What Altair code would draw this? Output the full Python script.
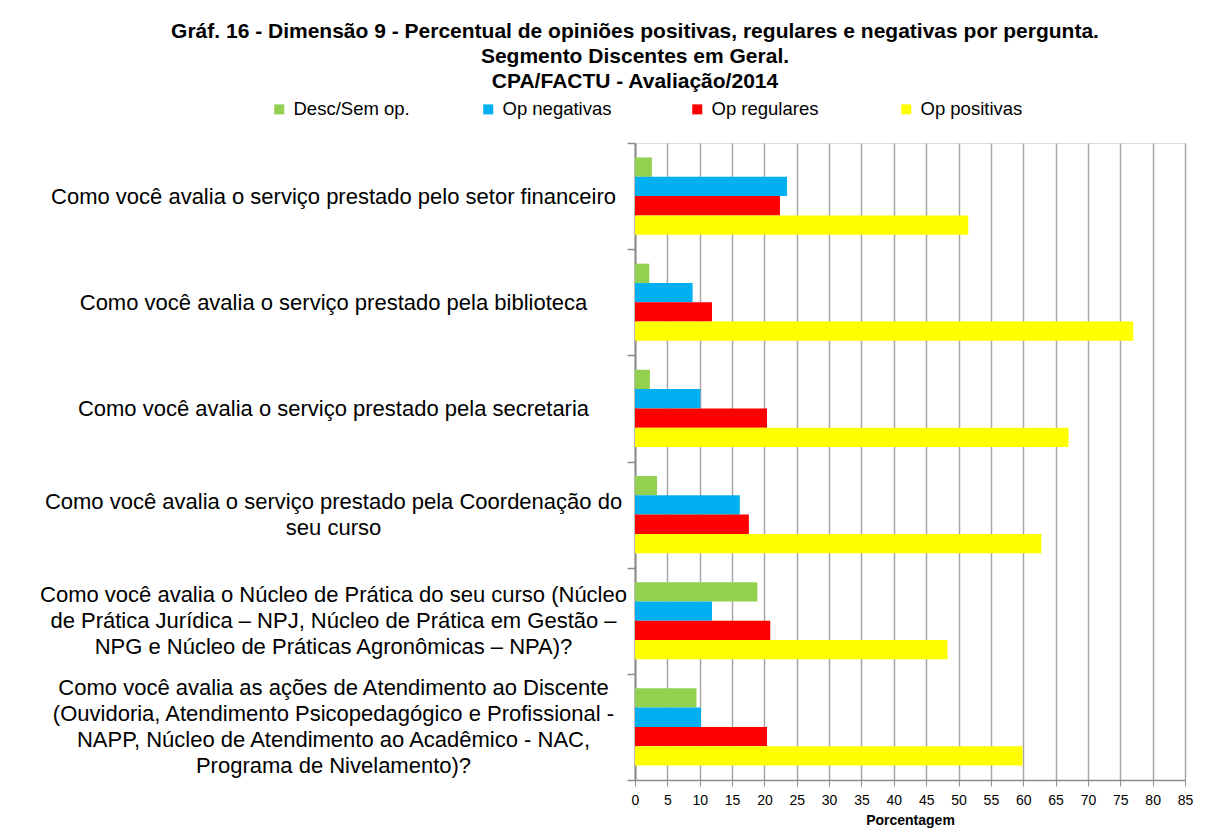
import altair as alt
import pandas as pd

categories = [
    "Como você avalia o serviço prestado pelo setor financeiro",
    "Como você avalia o serviço prestado pela biblioteca",
    "Como você avalia o serviço prestado pela secretaria",
    "Como você avalia o serviço prestado pela Coordenação do|seu curso",
    "Como você avalia o Núcleo de Prática do seu curso (Núcleo|de Prática Jurídica – NPJ, Núcleo de Prática em Gestão –|NPG e Núcleo de Práticas Agronômicas – NPA)?",
    "Como você avalia as ações de Atendimento ao Discente|(Ouvidoria, Atendimento Psicopedagógico e Profissional -|NAPP, Núcleo de Atendimento ao Acadêmico - NAC,|Programa de Nivelamento)?",
]
series = ["Desc/Sem op.", "Op negativas", "Op regulares", "Op positivas"]
colors = ["#92D050", "#00B0F0", "#FF0000", "#FFFF00"]

desc_sem_op = [2.6, 2.2, 2.3, 3.4, 18.9, 9.5]
op_negativas = [23.5, 8.9, 10.1, 16.2, 11.9, 10.2]
op_regulares = [22.4, 11.9, 20.4, 17.6, 20.9, 20.4]
op_positivas = [51.5, 77.0, 67.0, 62.8, 48.3, 59.9]

x_ticks = list(range(0, 90, 5))

rows = []
for s, vals in zip(series, [desc_sem_op, op_negativas, op_regulares, op_positivas]):
    for c, v in zip(categories, vals):
        rows.append({"categoria": c, "serie": s, "valor": v})
df = pd.DataFrame(rows)

FONT = "Liberation Sans"
LINE_H = 26

# Vega draws multi-line labels downward from the first line, so shift
# each label up by half its extra lines to centre it on its band.
n_lines = "length(split(datum.value, '|'))"
label_offset = {
    "condition": [
        {"test": f"{n_lines} == 2", "value": -LINE_H * 0.5},
        {"test": f"{n_lines} == 3", "value": -LINE_H * 1.0},
        {"test": f"{n_lines} == 4", "value": -LINE_H * 1.5},
    ],
    "value": 0,
}

chart = alt.Chart(df).mark_bar().encode(
    x=alt.X("valor:Q",
            scale=alt.Scale(domain=[0, 85], nice=False),
            axis=alt.Axis(values=x_ticks, title="Porcentagem", grid=True,
                          gridColor="#a6a6a6", gridWidth=1.5,
                          domainColor="#8c8c8c", domainWidth=1.5,
                          tickColor="#8c8c8c", tickSize=6,
                          labelFlush=False,
                          labelFont=FONT, labelFontSize=14, labelColor="black",
                          titleFont=FONT, titleFontSize=14, titleFontWeight="bold",
                          titleColor="black", titlePadding=6, labelPadding=7)),
    y=alt.Y("categoria:N", sort=categories,
            scale=alt.Scale(paddingInner=0, paddingOuter=0),
            axis=alt.Axis(title=None, tickBand="extent",
                          labelExpr="split(datum.label, '|')",
                          labelAlign="center", labelBaseline="middle",
                          labelPadding=294, labelLimit=0, labelOverlap=False,
                          labelOffset=label_offset,
                          labelFont=FONT, labelFontSize=22, labelColor="black",
                          labelLineHeight=LINE_H,
                          domainColor="#8c8c8c", domainWidth=2,
                          tickColor="#8c8c8c", tickSize=8, tickWidth=1.5)),
    yOffset=alt.YOffset("serie:N", sort=series,
                        scale=alt.Scale(paddingInner=0, paddingOuter=0.75)),
    color=alt.Color("serie:N", sort=series,
                    scale=alt.Scale(domain=series, range=colors),
                    legend=alt.Legend(title=None, orient="none",
                                      legendX=-365, legendY=-43,
                                      direction="horizontal", columns=4,
                                      gridAlign="all", columnPadding=69,
                                      symbolType="square", symbolSize=100,
                                      symbolStrokeWidth=0,
                                      labelFont=FONT, labelFontSize=18.5,
                                      labelColor="black", labelOffset=5)),
).properties(
    width=550,
    height=637,
    padding={"left": 31, "top": 13, "right": 5, "bottom": 5},
    title=alt.TitleParams(
        text=["Gráf. 16 - Dimensão 9 - Percentual de opiniões positivas, regulares e negativas por pergunta.",
              "Segmento Discentes em Geral.",
              "CPA/FACTU - Avaliação/2014"],
        font=FONT, fontSize=21, fontWeight="bold", color="black",
        anchor="middle", frame="group", dx=-275, lineHeight=25, offset=8),
).configure_view(stroke=None).configure(background="white")

chart.save("out.html", embed_options={"renderer": "svg", "actions": False})
